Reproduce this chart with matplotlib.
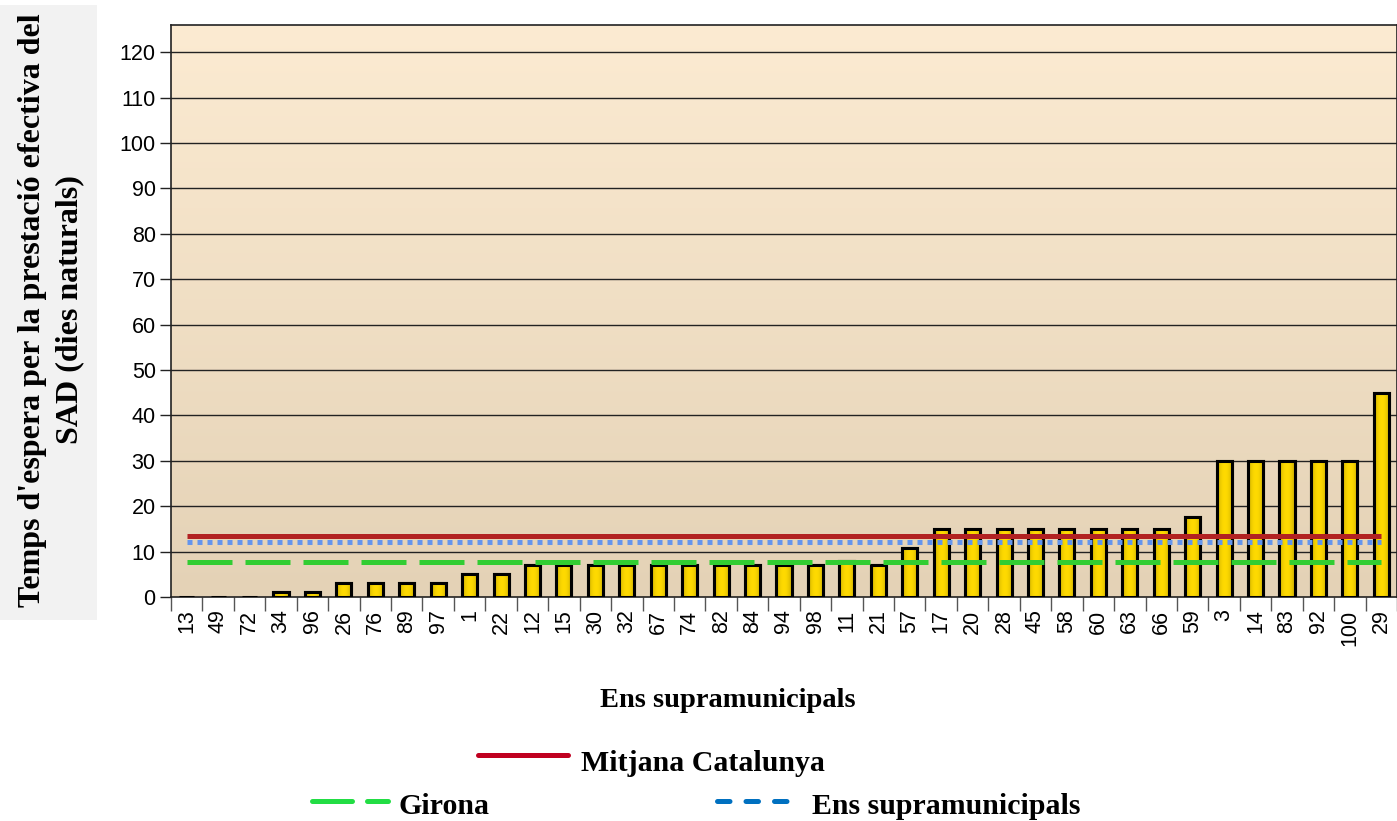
import matplotlib
matplotlib.use("Agg")
import matplotlib.pyplot as plt
import numpy as np
from matplotlib.lines import Line2D
from matplotlib.patches import Rectangle

# Data
ens = ["13", "49", "72", "34", "96", "26", "76", "89", "97", "1", "22", "12", "15",
       "30", "32", "67", "74", "82", "84", "94", "98", "11", "21", "57", "17", "20",
       "28", "45", "58", "60", "63", "66", "59", "3", "14", "83", "92", "100", "29"]
temps = [0, 0, 0, 1, 1, 3, 3, 3, 3, 5, 5, 7, 7,
         7, 7, 7, 7, 7, 7, 7, 7, 8, 7, 10.7, 15, 15,
         15, 15, 15, 15, 15, 15, 17.7, 30, 30, 30, 30, 30, 45]
mitjana_catalunya = 13.4
mitjana_girona = 7.8
mitjana_ens = 12.1

serif = "Liberation Serif"
sans = "Liberation Sans"

fig = plt.figure(figsize=(13.97, 8.21), dpi=100)

# gray box behind the y label
fig.add_artist(Rectangle((0, 1 - 620 / 821), 97 / 1397, 615 / 821,
                         transform=fig.transFigure, facecolor="#F2F2F2",
                         edgecolor="none", zorder=0))

ax = fig.add_axes([171 / 1397, 1 - 597 / 821, 1226 / 1397, 572 / 821])
x = np.arange(len(ens))
ymax = 126

# background gradient (light at top, tan at bottom)
grad = np.linspace(0, 1, 256).reshape(-1, 1)
top = np.array([252, 235, 210]) / 255
bot = np.array([228, 210, 182]) / 255
bg = top * (1 - grad[..., None]) + bot * grad[..., None]
ax.imshow(bg, extent=(-0.5, len(ens) - 0.5, 0, ymax), origin="upper",
          aspect="auto", zorder=0)

for yv in range(10, 130, 10):
    ax.axhline(yv, color="#222222", lw=1.0, zorder=1)

# bars with horizontal yellow gradient
bars = ax.bar(x, temps, width=0.48, facecolor="#FFD500", edgecolor="black",
              linewidth=2.2, zorder=3)
hg = np.linspace(-1, 1, 64)
shade = 1 - 0.22 * hg ** 2
c1 = np.array([255, 218, 0]) / 255
bar_img = np.clip(c1[None, None, :] * shade[None, :, None], 0, 1)
for b in bars:
    if b.get_height() <= 0:
        continue
    im = ax.imshow(bar_img, extent=(b.get_x(), b.get_x() + b.get_width(), 0, b.get_height()),
                   aspect="auto", zorder=3.5)
    im.set_clip_path(b)
    ax.add_patch(Rectangle((b.get_x(), 0), b.get_width(), b.get_height(),
                           facecolor="none", edgecolor="black", lw=2.2, zorder=4))
ax.set_xlim(-0.5, len(ens) - 0.5)
ax.set_ylim(0, ymax)

# reference lines
ax.plot([x[0], x[-1]], [mitjana_catalunya] * 2, color="#B22222", lw=3.6,
        solid_capstyle="butt", zorder=6)
ax.plot([x[0], x[-1]], [mitjana_ens] * 2, color="#6495ED", lw=3.6,
        dashes=(1, 1), zorder=6)
ax.plot([x[0], x[-1]], [mitjana_girona] * 2, color="#32CD32", lw=3.6,
        dashes=(9, 2.6), zorder=6)

# ticks
ax.set_yticks(range(0, 121, 10))
ax.set_yticklabels([str(v) for v in range(0, 121, 10)], fontsize=15.5, family=sans)
ax.tick_params(axis="y", length=8, width=1, color="#222222", pad=3)
ax.set_xticks(x)
ax.set_xticklabels(ens, rotation=90, fontsize=15.5, family=sans)
ax.set_xticks(np.arange(-0.5, len(ens), 1), minor=True)
ax.tick_params(axis="x", which="major", length=0, pad=9)
ax.tick_params(axis="x", which="minor", length=10, width=1, color="#555555")
for s in ax.spines.values():
    s.set_color("#222222")
    s.set_linewidth(1.2)

fig.text(51 / 1397, 1 - 310 / 821,
         "Temps d'espera per la prestació efectiva del\nSAD (dies naturals)",
         rotation=90, ha="center", va="center", fontsize=23, family=serif,
         fontweight="bold", linespacing=1.4)
fig.text(728 / 1397, 1 - 700 / 821, "Ens supramunicipals", ha="center", va="center",
         fontsize=20.5, family=serif, fontweight="bold")

# legend
def leg_line(x0, x1, y, **kw):
    fig.add_artist(Line2D([x0 / 1397, x1 / 1397], [1 - y / 821] * 2,
                          transform=fig.transFigure, **kw))

leg_line(478, 568, 755, color="#C00020", lw=3.6, solid_capstyle="round")
fig.text(581 / 1397, 1 - 763 / 821, "Mitjana Catalunya", ha="left", va="center",
         fontsize=21.5, family=serif, fontweight="bold")
leg_line(312, 388, 801, color="#22DD44", lw=3.6, dashes=(8, 3), dash_capstyle="round")
fig.text(398 / 1397, 1 - 806 / 821, "Girona", ha="left", va="center",
         fontsize=21.5, family=serif, fontweight="bold")
leg_line(717, 798, 801, color="#0070C0", lw=3.6, dashes=(2.5, 3.2), dash_capstyle="round")
fig.text(812 / 1397, 1 - 806 / 821, "Ens supramunicipals", ha="left", va="center",
         fontsize=21.5, family=serif, fontweight="bold")

fig.savefig("out.png", dpi=100)
